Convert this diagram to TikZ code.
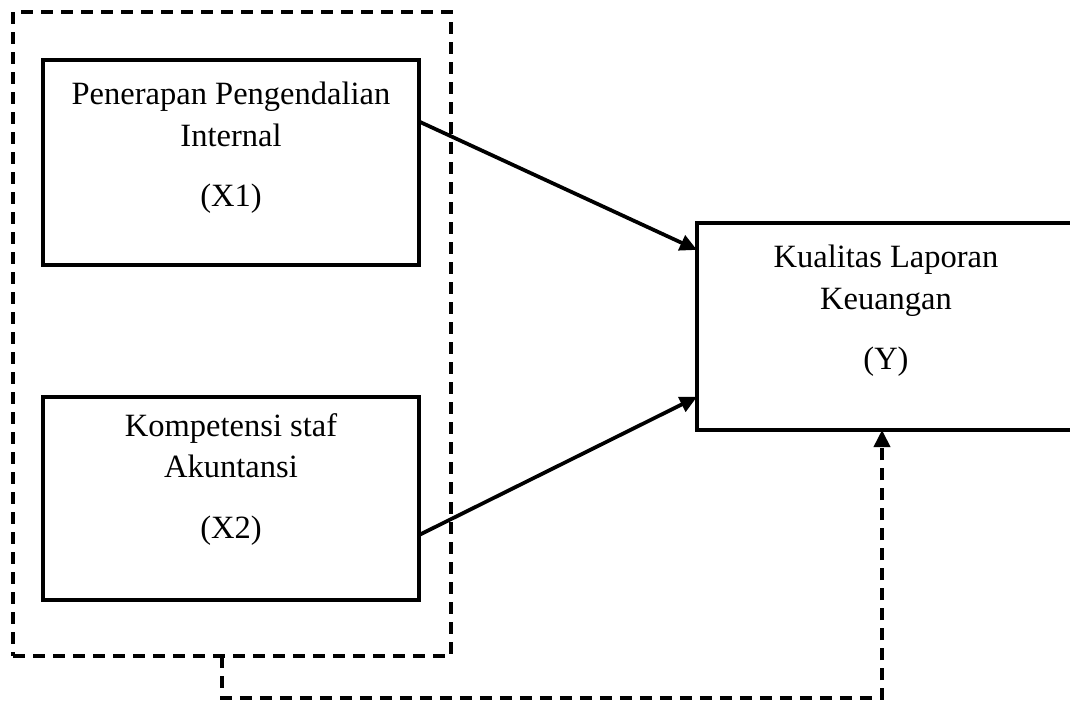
\documentclass[tikz,border=0pt]{standalone}
\usepackage{fontspec}
\setmainfont{Liberation Serif}
\usetikzlibrary{arrows.meta, calc, positioning}

\begin{document}
\begin{tikzpicture}[
    varbox/.style={draw, line width=0.08cm, inner sep=0pt, outer sep=0pt},
    vartext/.style={align=center, inner sep=0pt, anchor=north, font=\fontsize{18.5}{23.5}\selectfont},
    grpline/.style={line width=0.08cm, dash pattern=on 0.24cm off 0.16cm},
    effect/.style={line width=0.075cm, -{Triangle[length=0.34cm,width=0.32cm]}}
]
    \path[use as bounding box, clip] (0,0) rectangle (21.4,14.08);

    % Dashed frame round both variables
    \node[grpline, draw, inner sep=0pt, outer sep=0pt, minimum width=8.76cm, minimum height=12.88cm] (grp) at (4.64,7.40) {};

    % Independent variables
    \node[varbox, minimum width=7.52cm, minimum height=4.10cm] (x1) at (4.62,10.83) {};
    \node[vartext] (x1txt) at ([yshift=-0.44cm]x1.north) {Penerapan Pengendalian\\Internal\\[11pt](X1)};

    \node[varbox, minimum width=7.52cm, minimum height=4.06cm] (x2) at (4.62,4.11) {};
    \node[vartext] (x2txt) at ([yshift=-0.32cm]x2.north) {Kompetensi staf\\Akuntansi\\[11pt](X2)};

    % Dependent variable
    \node[varbox, minimum width=7.56cm, minimum height=4.14cm] (y) at (17.72,7.55) {};
    \node[vartext] (ytxt) at ([yshift=-0.44cm]y.north) {Kualitas Laporan\\Keuangan\\[11pt](Y)};

    % Partial effects
    \draw[effect] ($(x1.north east)!0.30!(x1.south east)$) -- ($(y.north west)!0.13!(y.south west)$);
    \draw[effect] ($(x2.north east)!0.68!(x2.south east)$) -- ($(y.north west)!0.84!(y.south west)$);

    % Joint effect
    \draw[grpline, effect] ($(grp.south west)!0.477!(grp.south east)$) -- ++(0,-0.84) -| ([xshift=3.7cm]y.south west);
\end{tikzpicture}
\end{document}
